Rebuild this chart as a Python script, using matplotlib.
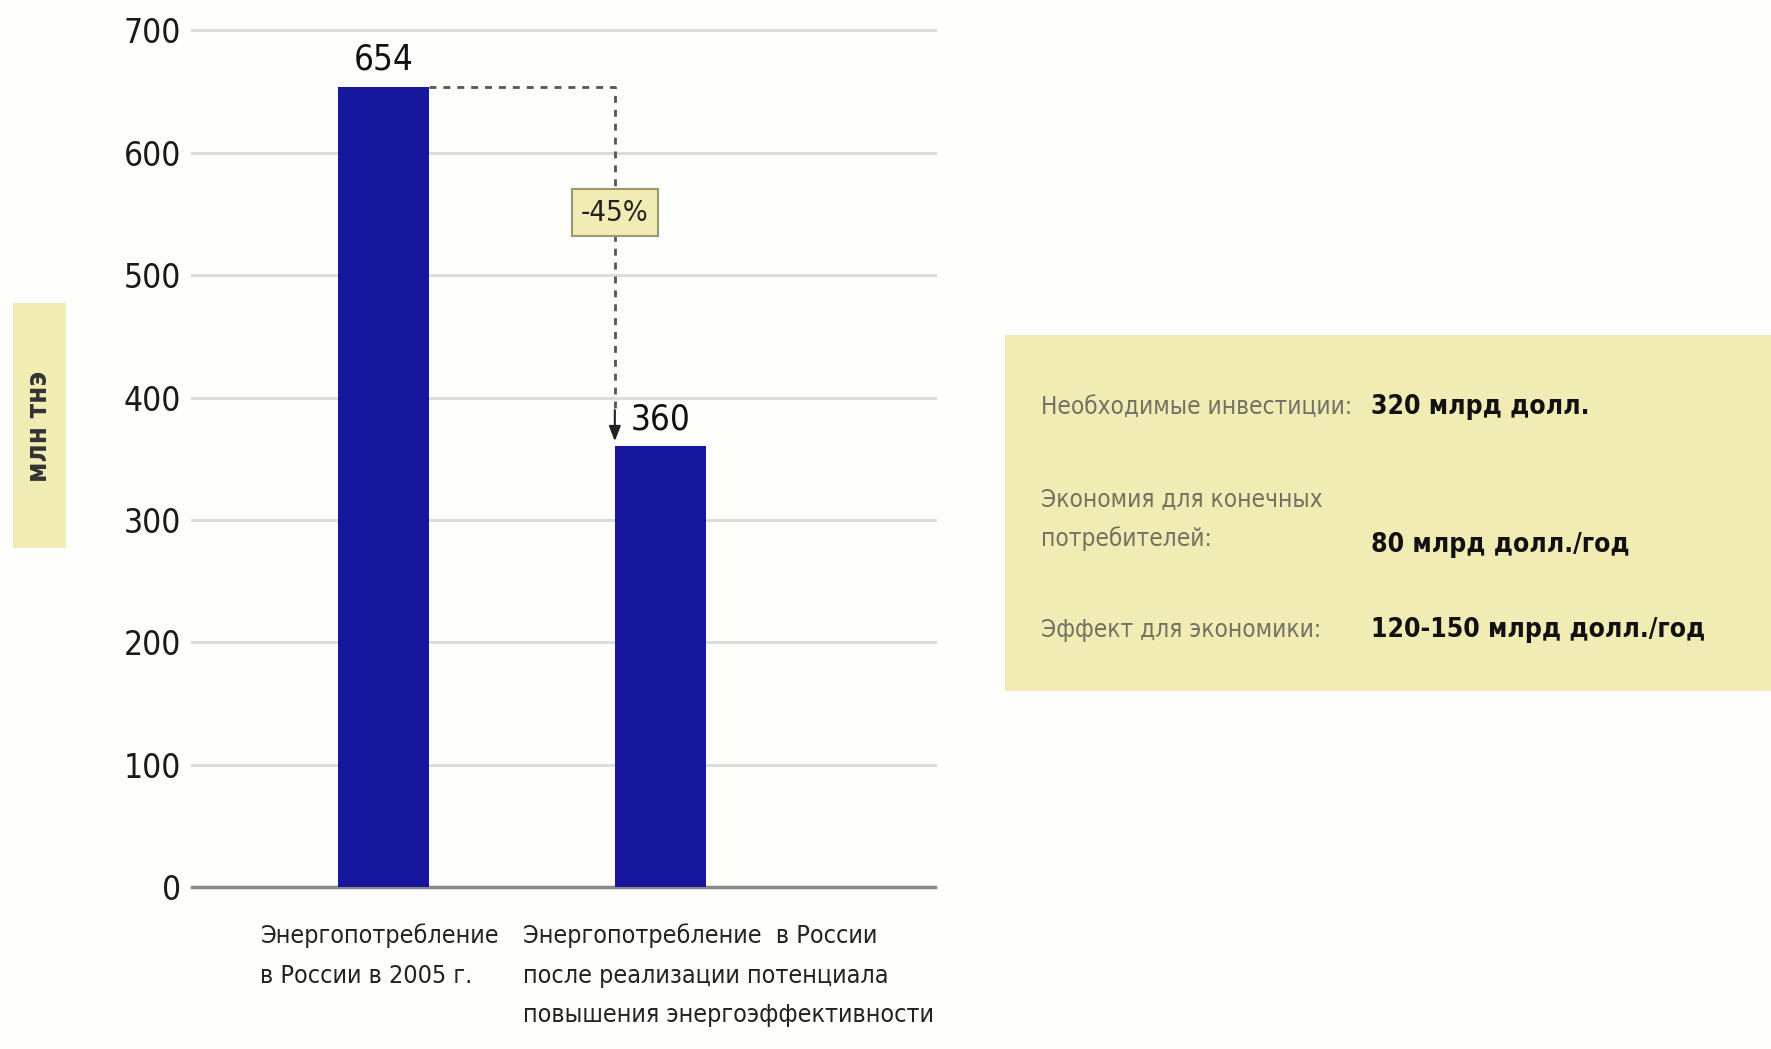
import os
import matplotlib.pyplot as plt
from matplotlib import font_manager
from matplotlib.font_manager import FontProperties

# данные
categories = [
    "Энергопотребление\nв России в 2005 г.",
    "Энергопотребление  в России\nпосле реализации потенциала\nповышения энергоэффективности",
]
values = [654, 360]
change_label = "-45%"
y_ticks = [0, 100, 200, 300, 400, 500, 600, 700]
y_label = "млн тнэ"
info_labels = ["Необходимые инвестиции:", "Экономия для конечных\nпотребителей:", "Эффект для экономики:"]
info_values = ["320 млрд долл.", "80 млрд долл./год", "120-150 млрд долл./год"]


def pick(files, fallback):
    # ищем узкий шрифт по имени файла
    by_name = {os.path.basename(f.fname): f.fname for f in font_manager.fontManager.ttflist}
    for name in files:
        if name in by_name:
            return FontProperties(fname=by_name[name])
    return fallback


font_reg = pick(["NotoSans-Condensed.ttf", "DejaVuSansCondensed.ttf", "NotoSans-SemiCondensed.ttf"],
                FontProperties(family="DejaVu Sans", stretch="condensed"))
font_bold = pick(["NotoSans-CondensedBold.ttf", "DejaVuSansCondensed-Bold.ttf", "NotoSans-SemiCondensedBold.ttf"],
                 FontProperties(family="DejaVu Sans", stretch="condensed", weight="bold"))


def fp(size, bold=False):
    f = (font_bold if bold else font_reg).copy()
    f.set_size(size)
    return f


bar_color = "#17179e"
yellow = "#f1ebb4"
bar_w = 0.33

fig = plt.figure(figsize=(17.71, 10.49), dpi=100)
fig.patch.set_facecolor("#fdfdfb")
ax = fig.add_axes([0.1084, 0.1544, 0.4196, 0.8166])
ax.set_facecolor("none")

x = list(range(len(values)))
ax.bar(x, values, width=bar_w, color=bar_color, zorder=3)
ax.set_xlim(-0.69, 1.99)
ax.set_ylim(0, 700)
ax.set_yticks(y_ticks)
ax.set_yticklabels([str(t) for t in y_ticks], fontproperties=fp(24), color="#1a1a1a")
ax.set_xticks([])
ax.tick_params(axis="y", length=0, pad=8)
for t in y_ticks[1:]:
    ax.axhline(t, color="#dcdcdc", lw=2.2, zorder=1, clip_on=False)
for s in ["top", "right", "left"]:
    ax.spines[s].set_visible(False)
ax.spines["bottom"].set_color("#8a8a8a")
ax.spines["bottom"].set_linewidth(2.5)

# подписи значений
for xi, v in zip(x, values):
    ax.text(xi, v + 8, str(v), ha="center", va="bottom", fontproperties=fp(25), color="#111111")

# пунктир со стрелкой
x_from = x[0] + bar_w / 2
x_to = x[1] - bar_w / 2
ax.plot([x_from, x_to, x_to], [values[0], values[0], values[1] + 30],
        color="#555555", lw=2, ls=(0, (2.5, 2.5)), zorder=4)
ax.annotate("", xy=(x_to, values[1] + 2), xytext=(x_to, values[1] + 32),
            arrowprops=dict(arrowstyle="-|>,head_width=0.35,head_length=0.9",
                            color="#222222", lw=1.5), zorder=5)
ax.text(x_to, 551, change_label, ha="center", va="center", fontproperties=fp(21), color="#222222",
        bbox=dict(boxstyle="square,pad=0.32", facecolor=yellow, edgecolor="#9a9a70", lw=1.5),
        zorder=6)

# подписи категорий
label_x = [-0.443, 0.504]
for lx, c in zip(label_x, categories):
    ax.text(lx, -30, c, ha="left", va="top", fontproperties=fp(18), color="#222222",
            linespacing=1.8, clip_on=False)

# подпись оси Y в жёлтой плашке
fig.patches.append(plt.Rectangle((0.0076, 0.478), 0.0294, 0.233, transform=fig.transFigure,
                                 facecolor=yellow, edgecolor="none"))
fig.text(0.0223, 0.594, y_label, rotation=90, ha="center", va="center",
         fontproperties=fp(20, bold=True), color="#333333")

# жёлтый блок справа
fig.patches.append(plt.Rectangle((0.5675, 0.341), 0.44, 0.34, transform=fig.transFigure,
                                 facecolor=yellow, edgecolor="none"))
label_y = [0.6124, 0.5047, 0.399]
value_y = [0.6124, 0.48, 0.399]
for ly, vy, lab, val in zip(label_y, value_y, info_labels, info_values):
    fig.text(0.588, ly, lab, ha="left", va="center",
             fontproperties=fp(17.5), color="#727262", linespacing=1.7)
    fig.text(0.774, vy, val, ha="left", va="center", fontproperties=fp(19, bold=True),
             color="#111111")

fig.savefig("out.png", dpi=100, facecolor=fig.get_facecolor())
